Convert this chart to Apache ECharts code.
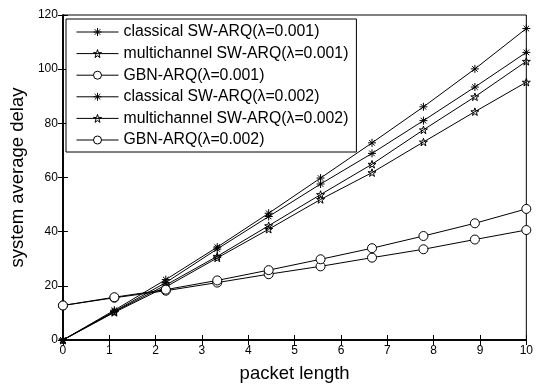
<!DOCTYPE html>
<html>
<head>
<meta charset="utf-8">
<script src="https://cdn.jsdelivr.net/npm/echarts@6/dist/echarts.min.js"></script>
<style>
  html, body { margin: 0; padding: 0; background: #fff; }
  #chart { width: 536px; height: 388px; }
</style>
</head>
<body>
<div id="chart"></div>
<script>
// packet length values on the x axis
const packetLength = [0, 1.11, 2.22, 3.33, 4.44, 5.56, 6.67, 7.78, 8.89, 10];

const classical001 = [0, 10.6, 21.2, 33.6, 45.6, 57.6, 68.9, 81.0, 93.4, 106.2];
const multichannel001 = [0, 10.2, 19.6, 30.3, 40.9, 51.9, 61.8, 73.1, 84.3, 95.2];
const gbn001 = [12.75, 15.6, 18.2, 21.2, 24.3, 27.2, 30.4, 33.5, 37.1, 40.6];
const classical002 = [0, 11.0, 22.3, 34.3, 46.8, 59.8, 72.8, 86.1, 100.1, 115.0];
const multichannel002 = [0, 10.4, 20.3, 30.9, 42.2, 53.7, 64.9, 77.6, 89.8, 102.9];
const gbn002 = [12.75, 15.8, 18.6, 22.0, 25.8, 29.8, 33.9, 38.4, 43.1, 48.4];

const seriesNames = [
  'classical SW-ARQ(λ=0.001)',
  'multichannel SW-ARQ(λ=0.001)',
  'GBN-ARQ(λ=0.001)',
  'classical SW-ARQ(λ=0.002)',
  'multichannel SW-ARQ(λ=0.002)',
  'GBN-ARQ(λ=0.002)'
];
const seriesValues = [classical001, multichannel001, gbn001, classical002, multichannel002, gbn002];

// matlab-like markers: '*', 'p' and 'o'
const asterisk = 'path://M10 0 L10 20 M0 10 L20 10 M3 3 L17 17 M17 3 L3 17';
const pentagram = 'path://M10 0 L12.25 6.91 L19.51 6.91 L13.63 11.18 L15.88 18.09 L10 13.82 L4.12 18.09 L6.37 11.18 L0.49 6.91 L7.75 6.91 Z';
const ring = 'path://M0 10 A10 10 0 1 0 20 10 A10 10 0 1 0 0 10 Z';
const markers = [asterisk, pentagram, ring, asterisk, pentagram, ring];

const font = '"Liberation Sans", Arial, sans-serif';

const pairs = ys => packetLength.map((x, i) => [x, ys[i]]);

const markerStyle = symbol => symbol === ring
  ? { color: '#fff', borderColor: '#000', borderWidth: 1 }
  : { color: 'rgba(0,0,0,0)', borderColor: '#000', borderWidth: 1 };

const makeSeries = (name, ys, symbol) => ({
  name: name,
  type: 'line',
  data: pairs(ys),
  symbol: symbol,
  symbolSize: symbol === ring ? 9 : 8,
  symbolKeepAspect: true,
  showAllSymbol: true,
  lineStyle: { color: '#000', width: 1 },
  itemStyle: markerStyle(symbol)
});

const axisLine = { show: true, lineStyle: { color: '#000', width: 1.5 } };
const axisTick = { show: true, inside: true, length: 5, lineStyle: { color: '#000' } };

const chart = echarts.init(document.getElementById('chart'));

const option = {
  animation: false,
  backgroundColor: '#fff',
  textStyle: { fontFamily: font },
  grid: {
    left: 62,
    right: 7,
    top: 15,
    bottom: 44,
    show: true,
    borderColor: '#000',
    borderWidth: 1
  },
  legend: {
    orient: 'vertical',
    left: 66,
    top: 19,
    padding: [5, 8, 4, 10],
    itemWidth: 42,
    itemHeight: 10,
    itemGap: 5.6,
    backgroundColor: '#fff',
    borderColor: '#000',
    borderWidth: 1,
    borderRadius: 0,
    textStyle: { fontFamily: font, fontSize: 15.8, color: '#000' },
    data: seriesNames.map((name, i) => ({
      name: name,
      itemStyle: markerStyle(markers[i]),
      lineStyle: { color: '#000', width: 1 }
    }))
  },
  xAxis: [
    {
      type: 'value',
      min: 0,
      max: 10,
      interval: 1,
      name: 'packet length',
      nameLocation: 'middle',
      nameGap: 24,
      nameTextStyle: { fontFamily: font, fontSize: 18.5, color: '#000' },
      axisLine: axisLine,
      axisTick: axisTick,
      axisLabel: { fontFamily: font, fontSize: 12, color: '#000', margin: 5 },
      splitLine: { show: false }
    },
    {
      type: 'value',
      position: 'top',
      min: 0,
      max: 10,
      interval: 1,
      axisLine: axisLine,
      axisTick: axisTick,
      axisLabel: { show: false },
      splitLine: { show: false }
    }
  ],
  yAxis: [
    {
      type: 'value',
      min: 0,
      max: 120,
      interval: 20,
      name: 'system average delay',
      nameLocation: 'middle',
      nameGap: 35,
      nameTextStyle: { fontFamily: font, fontSize: 18.5, color: '#000' },
      axisLine: axisLine,
      axisTick: axisTick,
      axisLabel: { fontFamily: font, fontSize: 12, color: '#000', margin: 5 },
      splitLine: { show: false }
    },
    {
      type: 'value',
      position: 'right',
      min: 0,
      max: 120,
      interval: 20,
      axisLine: axisLine,
      axisTick: axisTick,
      axisLabel: { show: false },
      splitLine: { show: false }
    }
  ],
  series: seriesNames.map((name, i) => makeSeries(name, seriesValues[i], markers[i]))
};

chart.setOption(option);
</script>
</body>
</html>
